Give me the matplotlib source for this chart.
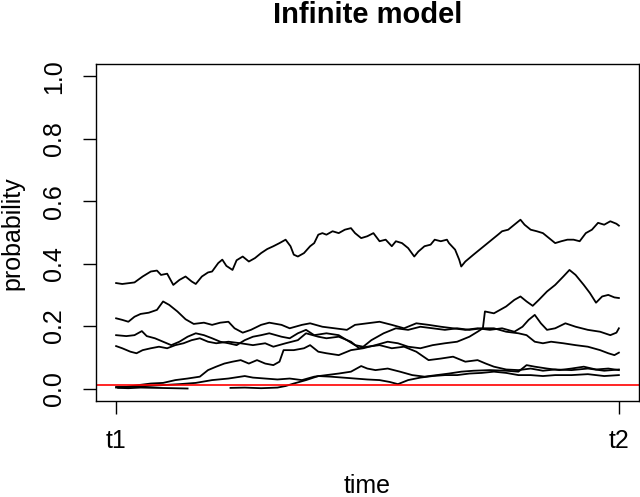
import matplotlib
matplotlib.use("Agg")
import matplotlib.pyplot as plt

plt.rcParams['font.family'] = ['Liberation Sans', 'DejaVu Sans']

# time axis in generations, t1 = 0 and t2 = 1231
T1, T2 = 0, 1231
tick_labels = ["t1", "t2"]
threshold = 0.01

# allele trajectories
top_gen = [0, 15, 45, 65, 85, 100, 110, 125, 140, 155, 170, 185, 195, 210, 225, 235, 250, 260, 270, 285,
           295, 310, 325, 340, 355, 370, 385, 400, 415, 427, 435, 445, 460, 475, 485, 495, 505, 515, 530, 545,
           560, 575, 585, 600, 615, 630, 645, 660, 675, 685, 700, 715, 730, 740, 755, 770, 780, 795, 810, 815,
           830, 840, 845, 855, 875, 890, 905, 920, 935, 945, 960, 975, 990, 1000, 1015, 1030, 1045, 1060, 1075,
           1090, 1105, 1120, 1135, 1150, 1165, 1180, 1195, 1210, 1225, 1231]
top_prob = [0.338, 0.335, 0.340, 0.359, 0.375, 0.378, 0.364, 0.368, 0.332, 0.348, 0.359, 0.343, 0.335, 0.359,
            0.372, 0.375, 0.402, 0.413, 0.393, 0.380, 0.411, 0.423, 0.407, 0.418, 0.434, 0.447, 0.456, 0.466,
            0.477, 0.456, 0.429, 0.423, 0.434, 0.456, 0.466, 0.493, 0.498, 0.493, 0.504, 0.498, 0.509, 0.514,
            0.498, 0.482, 0.488, 0.498, 0.472, 0.477, 0.456, 0.472, 0.466, 0.450, 0.423, 0.439, 0.456, 0.461,
            0.477, 0.472, 0.477, 0.466, 0.445, 0.413, 0.391, 0.407, 0.429, 0.445, 0.461, 0.477, 0.493, 0.504,
            0.509, 0.525, 0.541, 0.525, 0.509, 0.504, 0.498, 0.482, 0.466, 0.472, 0.477, 0.477, 0.472, 0.498,
            0.509, 0.531, 0.525, 0.536, 0.528, 0.522]

a_gen = [0, 15, 30, 45, 60, 80, 100, 115, 130, 150, 170, 190, 215, 235, 255, 275, 290, 310, 330, 355, 375,
         405, 425, 455, 475, 505, 535, 565, 585, 615, 645, 675, 705, 735, 765, 795, 825, 855, 885, 915, 945,
         975, 995, 1010, 1025, 1040, 1055, 1075, 1100, 1125, 1155, 1185, 1210, 1225, 1231]
a_prob = [0.225, 0.220, 0.214, 0.230, 0.239, 0.243, 0.252, 0.279, 0.268, 0.247, 0.222, 0.207, 0.211, 0.204,
          0.211, 0.214, 0.193, 0.179, 0.188, 0.204, 0.211, 0.204, 0.193, 0.204, 0.209, 0.198, 0.193, 0.188,
          0.204, 0.209, 0.214, 0.204, 0.193, 0.209, 0.204, 0.198, 0.193, 0.188, 0.193, 0.188, 0.193, 0.182,
          0.198, 0.220, 0.236, 0.209, 0.188, 0.193, 0.209, 0.198, 0.188, 0.182, 0.171, 0.179, 0.193]

b_gen = [0, 25, 45, 63, 75, 95, 115, 135, 155, 175, 195, 215, 235, 255, 275, 295, 315, 335, 355, 375, 405,
         425, 445, 465, 485, 515, 545, 565, 585, 605, 625, 655, 685, 715, 745, 775, 805, 835, 865, 895, 925,
         955, 985, 1005, 1025, 1045, 1065, 1095, 1125, 1155, 1185, 1205, 1220, 1231]
b_prob = [0.171, 0.168, 0.171, 0.184, 0.168, 0.161, 0.150, 0.139, 0.150, 0.166, 0.177, 0.171, 0.161, 0.150,
          0.145, 0.139, 0.155, 0.166, 0.171, 0.177, 0.166, 0.161, 0.177, 0.188, 0.171, 0.177, 0.171, 0.155,
          0.139, 0.134, 0.155, 0.177, 0.193, 0.188, 0.198, 0.193, 0.188, 0.193, 0.188, 0.193, 0.193, 0.182,
          0.177, 0.171, 0.150, 0.145, 0.150, 0.145, 0.139, 0.134, 0.123, 0.113, 0.107, 0.115]

c_gen = [0, 15, 35, 50, 65, 85, 105, 125, 145, 165, 185, 205, 225, 245, 275, 305, 335, 365, 385, 415, 445,
         465, 495, 515, 545, 575, 595, 615, 645, 675, 705, 735, 765, 795, 825, 855, 885, 905, 925, 955, 985,
         1015, 1045, 1075, 1115, 1155, 1195, 1231]
c_prob = [0.136, 0.129, 0.118, 0.113, 0.123, 0.129, 0.134, 0.129, 0.139, 0.145, 0.155, 0.161, 0.150, 0.145,
          0.150, 0.145, 0.139, 0.145, 0.134, 0.145, 0.155, 0.177, 0.166, 0.161, 0.166, 0.150, 0.129, 0.134,
          0.139, 0.129, 0.134, 0.118, 0.091, 0.096, 0.102, 0.086, 0.091, 0.080, 0.070, 0.061, 0.059, 0.064,
          0.057, 0.061, 0.059, 0.064, 0.057, 0.061]

d_gen = [0, 25, 55, 85, 115, 145, 175, 205, 225, 245, 265, 285, 305, 325, 345, 365, 385, 400, 410, 435, 460,
         475, 495, 515, 545, 575, 605, 635, 665, 690, 715, 745, 775, 805, 835, 865, 885, 898, 903, 925, 955,
         975, 990, 1005, 1020, 1035, 1055, 1075, 1095, 1110, 1125, 1145, 1160, 1175, 1190, 1205, 1220, 1231]
d_prob = [0.003, 0.005, 0.011, 0.016, 0.018, 0.027, 0.032, 0.038, 0.059, 0.070, 0.080, 0.086, 0.091, 0.080,
          0.091, 0.080, 0.075, 0.086, 0.123, 0.123, 0.129, 0.139, 0.118, 0.113, 0.107, 0.123, 0.129, 0.139,
          0.150, 0.145, 0.134, 0.129, 0.139, 0.145, 0.150, 0.166, 0.182, 0.193, 0.247, 0.241, 0.263, 0.284,
          0.295, 0.279, 0.265, 0.284, 0.311, 0.332, 0.359, 0.380, 0.364, 0.332, 0.306, 0.275, 0.295, 0.300,
          0.292, 0.290]

e_gen = [0, 35, 75, 115, 155, 195, 235, 275, 315, 335, 365, 395, 425, 455, 485, 515, 545, 575, 600, 615, 635,
         665, 695, 725, 755, 785, 815, 845, 875, 915, 955, 985, 1005, 1025, 1055, 1085, 1115, 1145, 1175, 1205,
         1231]
e_prob = [0.005, 0.005, 0.008, 0.011, 0.014, 0.018, 0.027, 0.032, 0.040, 0.035, 0.032, 0.029, 0.032, 0.027,
          0.038, 0.043, 0.048, 0.054, 0.072, 0.064, 0.059, 0.064, 0.054, 0.043, 0.038, 0.043, 0.048, 0.054,
          0.057, 0.059, 0.057, 0.054, 0.075, 0.070, 0.064, 0.059, 0.064, 0.070, 0.061, 0.064, 0.059]

f_gen = [280, 315, 355, 395, 415, 435, 465, 495, 525, 555, 585, 615, 645, 670, 690, 715, 745, 775, 805, 835,
         865, 895, 925, 955, 985, 1015, 1045, 1075, 1115, 1155, 1195, 1231]
f_prob = [0.002, 0.003, 0.001, 0.003, 0.008, 0.016, 0.027, 0.040, 0.038, 0.035, 0.032, 0.029, 0.027, 0.021,
          0.014, 0.027, 0.035, 0.040, 0.043, 0.043, 0.048, 0.050, 0.054, 0.050, 0.043, 0.043, 0.040, 0.043,
          0.043, 0.046, 0.040, 0.043]

g_gen = [5, 30, 60, 100, 140, 175]
g_prob = [0.002, 0.001, 0.003, 0.002, 0.001, 0.0]

lines = [(top_gen, top_prob), (a_gen, a_prob), (b_gen, b_prob), (c_gen, c_prob),
         (d_gen, d_prob), (e_gen, e_prob), (f_gen, f_prob), (g_gen, g_prob)]

fig = plt.figure(figsize=(6.4, 4.97), dpi=100)
ax = fig.add_axes([96 / 640, 1 - 401 / 497, 543 / 640, 337 / 497])

for gen, prob in lines:
    ax.plot(gen, prob, color='black', lw=1.3)

ax.axhline(threshold, color='#ff0000', lw=1.2)

# R-style 4% padding
span = T2 - T1
ax.set_xlim(T1 - 0.04 * span, T2 + 0.04 * span)
ax.set_ylim(-0.04, 1.04)

ax.set_xticks([T1, T2])
ax.set_xticklabels(tick_labels)
yt = [0.0, 0.2, 0.4, 0.6, 0.8, 1.0]
ax.set_yticks(yt)
ax.set_yticklabels([f"{v:.1f}" for v in yt], rotation=90, va='center')

ax.tick_params(direction='out', length=9.5, width=1.0, labelsize=18, color='black')
ax.tick_params(axis='x', pad=11)
ax.tick_params(axis='y', pad=12)
for s in ax.spines.values():
    s.set_linewidth(1.0)

fig.text(367.5 / 640, 1 - 15 / 497, "Infinite model", ha='center', va='center',
         fontsize=21, fontweight='bold')
fig.text(367.5 / 640, 1 - 486 / 497, "time", ha='center', va='center', fontsize=18)
fig.text(12 / 640, 1 - 233 / 497, "probability", ha='center', va='center', fontsize=18, rotation=90)

fig.savefig("out.png", dpi=100)
